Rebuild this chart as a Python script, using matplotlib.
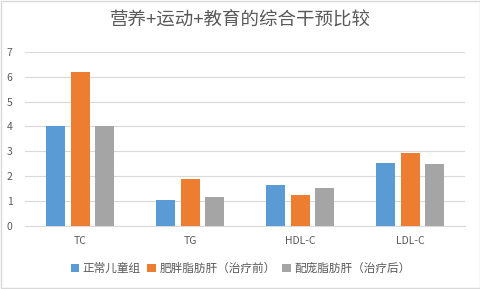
import matplotlib
matplotlib.use('Agg')
import matplotlib.pyplot as plt
import numpy as np
from matplotlib.patches import Rectangle

plt.rcParams['font.family'] = ['Noto Sans CJK SC', 'DejaVu Sans']

# --- data ---
categories = ['TC', 'TG', 'HDL-C', 'LDL-C']
series_names = ['正常儿童组', '肥胖脂肪肝（治疗前）', '配庞脂肪肝（治疗后）']
normal = [4.0, 1.04, 1.65, 2.53]
before = [6.2, 1.88, 1.25, 2.93]
after = [4.0, 1.16, 1.53, 2.49]
colors = ['#5B9BD5', '#ED7D31', '#A5A5A5']

fig = plt.figure(figsize=(4.81, 2.89), dpi=100)
ax = fig.add_axes([0.052, 0.218, 0.915, 0.603])

x = np.arange(len(categories))
width = 0.173
step = 0.223
for i, (vals, name) in enumerate(zip([normal, before, after], series_names)):
    ax.bar(x + (i - 1) * step, vals, width, color=colors[i], label=name, zorder=3)

ax.set_xlim(-0.5, len(categories) - 0.5)
ax.set_ylim(0, 7)
ax.set_yticks(range(0, 8))
ax.set_xticks(x)
ax.set_xticklabels(categories)
ax.tick_params(axis='both', length=0, labelsize=7.5, colors='#595959')
ax.tick_params(axis='x', pad=7)
ax.tick_params(axis='y', pad=9)
ax.grid(axis='y', color='#D9D9D9', linewidth=0.8, zorder=0)
for s in ['top', 'right', 'left']:
    ax.spines[s].set_visible(False)
ax.spines['bottom'].set_color('#D9D9D9')
ax.spines['bottom'].set_linewidth(0.8)

fig.suptitle('营养+运动+教育的综合干预比较', y=0.96, fontsize=13.3, color='#595959',
             fontweight='light')

fig.legend(loc='center', bbox_to_anchor=(0.5, 0.072), ncol=3, frameon=False,
           fontsize=8.4, handlelength=0.7, handleheight=0.7, handletextpad=0.3,
           columnspacing=0.6, labelcolor='#595959')

# light frame around the chart
fig.patches.append(Rectangle((0.002, 0.003), 0.995, 0.993, transform=fig.transFigure,
                             fill=False, edgecolor='#D9D9D9', linewidth=1))

plt.savefig('out.png', dpi=100)
